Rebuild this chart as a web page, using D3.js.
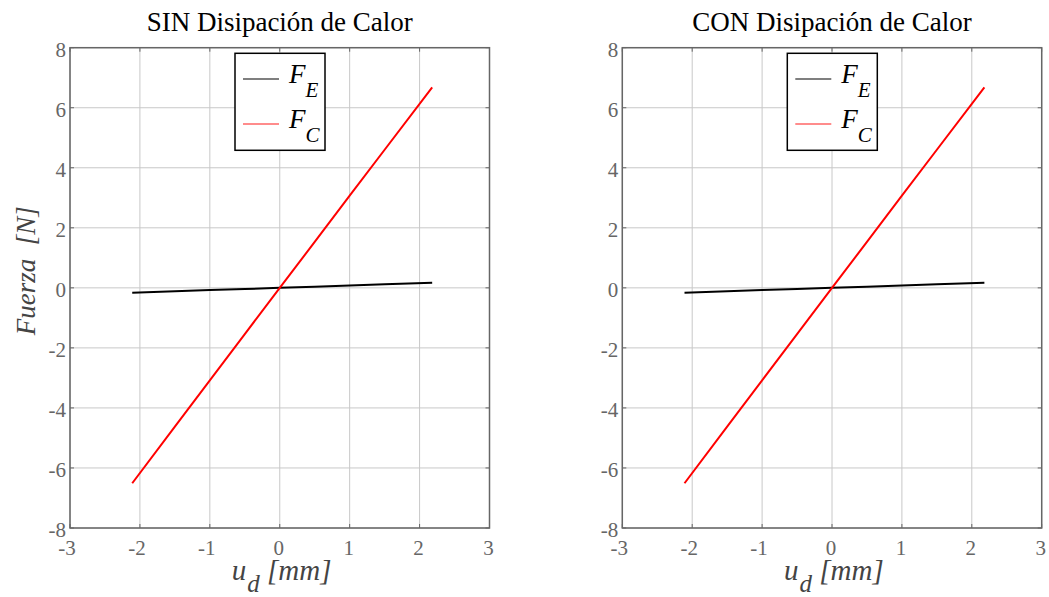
<!DOCTYPE html>
<html lang="es">
<head>
<meta charset="UTF-8">
<title>Fuerza vs desplazamiento</title>
<script src="https://d3js.org/d3.v7.min.js"></script>
<style>
  body { margin: 0; background: #fff; }
  .tick-lbl { fill: #666; font-size: 21px; }
</style>
</head>
<body>
<svg id="chart" width="1049" height="597" font-family="'Liberation Serif', 'Times New Roman', serif"></svg>
<script>
// values
var ud   = [-2.11, -1.5, -1.0, -0.5, 0, 0.5, 1.0, 1.5, 2.18];
var fE   = [-0.16, -0.11, -0.07, -0.04, 0, 0.04, 0.08, 0.12, 0.17];
var fC   = [-6.51, -4.62, -3.08, -1.54, 0, 1.53, 3.07, 4.60, 6.68];
var xTicks = [-3, -2, -1, 0, 1, 2, 3];
var yTicks = [-8, -6, -4, -2, 0, 2, 4, 6, 8];
var titles = ["SIN Disipación de Calor", "CON Disipación de Calor"];

var svg = d3.select('#chart');

var panels = [
  {title: titles[0], x0: 70, x1: 489.5, ylabel: true},
  {title: titles[1], x0: 622.3, x1: 1041.7, ylabel: false}
];
var yTop = 47.7, yBot = 528;

panels.forEach(function(p){
  var x = d3.scaleLinear().domain([-3, 3]).range([p.x0, p.x1]);
  var y = d3.scaleLinear().domain([-8, 8]).range([yBot, yTop]);
  var g = svg.append('g');

  // grid
  g.selectAll('.gx').data(xTicks).enter().append('line')
    .attr('x1', d => x(d)).attr('x2', d => x(d))
    .attr('y1', yTop).attr('y2', yBot)
    .attr('stroke', '#c8c8c8').attr('stroke-width', 1);
  g.selectAll('.gy').data(yTicks).enter().append('line')
    .attr('x1', p.x0).attr('x2', p.x1)
    .attr('y1', d => y(d)).attr('y2', d => y(d))
    .attr('stroke', '#c8c8c8').attr('stroke-width', 1);

  // inward ticks on all four sides
  xTicks.forEach(function(t){
    g.append('line').attr('x1', x(t)).attr('x2', x(t)).attr('y1', yBot).attr('y2', yBot-4).attr('stroke', '#666');
    g.append('line').attr('x1', x(t)).attr('x2', x(t)).attr('y1', yTop).attr('y2', yTop+4).attr('stroke', '#666');
  });
  yTicks.forEach(function(t){
    g.append('line').attr('x1', p.x0).attr('x2', p.x0+4).attr('y1', y(t)).attr('y2', y(t)).attr('stroke', '#666');
    g.append('line').attr('x1', p.x1).attr('x2', p.x1-4).attr('y1', y(t)).attr('y2', y(t)).attr('stroke', '#666');
  });

  // data lines
  var line = d3.line().x((d, i) => x(ud[i])).y(d => y(d));
  g.append('path').datum(fE).attr('d', line)
    .attr('fill', 'none').attr('stroke', '#000').attr('stroke-width', 2);
  g.append('path').datum(fC).attr('d', line)
    .attr('fill', 'none').attr('stroke', '#ff0000').attr('stroke-width', 2);

  // frame
  g.append('rect').attr('x', p.x0).attr('y', yTop)
    .attr('width', p.x1 - p.x0).attr('height', yBot - yTop)
    .attr('fill', 'none').attr('stroke', '#666').attr('stroke-width', 1.5);

  // tick labels
  g.selectAll('.xl').data(xTicks).enter().append('text')
    .attr('class', 'tick-lbl')
    .attr('x', d => x(d) - (d < 0 ? 3 : 1)).attr('y', 555)
    .attr('text-anchor', 'middle')
    .text(d => d);
  g.selectAll('.yl').data(yTicks).enter().append('text')
    .attr('class', 'tick-lbl')
    .attr('x', p.x0 - 4).attr('y', d => y(d) + 9)
    .attr('text-anchor', 'end')
    .text(d => d);

  // title
  g.append('text').attr('x', (p.x0 + p.x1) / 2).attr('y', 31)
    .attr('text-anchor', 'middle').attr('font-size', 27).attr('fill', '#000')
    .text(p.title);

  // x label
  var xl = g.append('text').attr('x', (p.x0 + p.x1) / 2 - 48).attr('y', 580)
    .attr('font-size', 29).attr('font-style', 'italic').attr('fill', '#444');
  xl.append('tspan').text('u');
  xl.append('tspan').attr('dy', 12).attr('dx', 1).attr('font-size', 25).text('d');
  xl.append('tspan').attr('dy', -12).text(' [mm]');

  // y label
  if (p.ylabel) {
    g.append('text').attr('transform', 'translate(35,' + ((yTop + yBot) / 2 - 17) + ') rotate(-90)')
      .attr('text-anchor', 'middle').attr('font-size', 27).attr('font-style', 'italic')
      .attr('fill', '#444').attr('xml:space', 'preserve')
      .text('Fuerza  [N]');
  }

  // legend
  var lx = x(-3) + (235 - 70), ly = 53.3;
  var lg = g.append('g');
  lg.append('rect').attr('x', lx).attr('y', ly).attr('width', 90).attr('height', 97)
    .attr('fill', '#fff').attr('stroke', '#000').attr('stroke-width', 1.5);
  var items = [{sub: 'E', color: '#555', yy: 79}, {sub: 'C', color: '#ff6666', yy: 124}];
  items.forEach(function(it){
    lg.append('line').attr('x1', lx + 8).attr('x2', lx + 44)
      .attr('y1', it.yy).attr('y2', it.yy)
      .attr('stroke', it.color).attr('stroke-width', 1.5);
    var t = lg.append('text').attr('x', lx + 54).attr('y', it.yy + 4)
      .attr('font-size', 27).attr('font-style', 'italic').attr('fill', '#000');
    t.append('tspan').text('F');
    t.append('tspan').attr('dy', 14).attr('font-size', 21).text(it.sub);
  });
});
</script>
</body>
</html>
